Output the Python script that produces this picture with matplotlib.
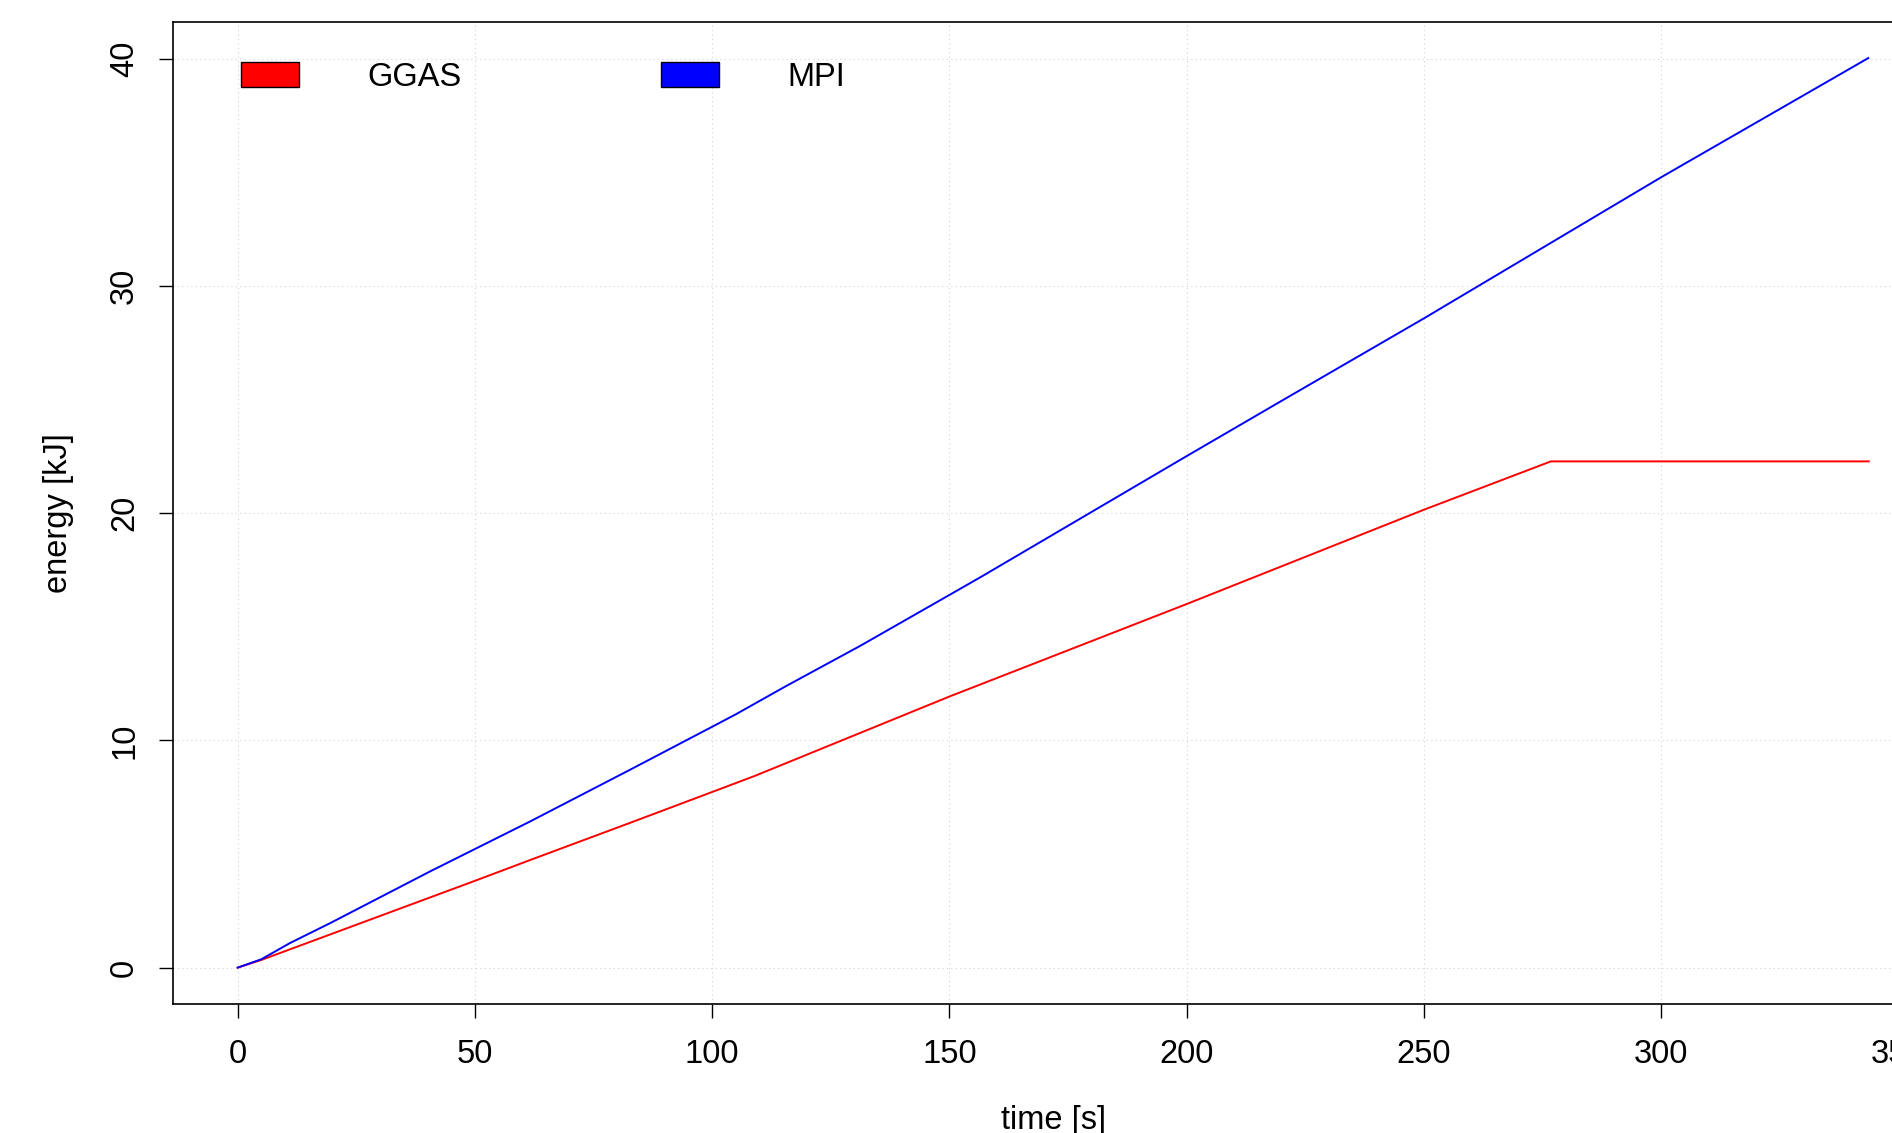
import matplotlib
matplotlib.use("Agg")
import matplotlib.pyplot as plt
from matplotlib.patches import Patch

plt.rcParams['font.family'] = ['Liberation Sans', 'DejaVu Sans']

# ---- data ----
mpi_time = [0, 5, 11, 19.5, 40.6, 50, 61.7, 82.8, 100, 105, 115.4, 131.2,
            150, 156.7, 200, 220.9, 250, 300, 343.7]
mpi_energy = [0, 0.37, 1.08, 1.96, 4.24, 5.22, 6.44, 8.72, 10.6, 11.15, 12.37,
              14.16, 16.40, 17.2, 22.51, 25.05, 28.57, 34.78, 40.03]

ggas_time = [0, 5, 50, 61.7, 82.8, 100, 108.9, 150, 200, 250, 276.8, 343.8]
ggas_energy = [0, 0.34, 3.82, 4.74, 6.38, 7.73, 8.43, 11.93, 16.0, 20.15,
               22.28, 22.28]

series_names = ["GGAS", "MPI"]
series_colors = ["#FF0000", "#0000FF"]
x_ticks = [0, 50, 100, 150, 200, 250, 300, 350]
y_ticks = [0, 10, 20, 30, 40]

W, H = 1892, 1133
fig = plt.figure(figsize=(W / 100, H / 100), dpi=100)
left, right, top, bottom = 172.5, 1934, 21.7, 1004
ax = fig.add_axes([left / W, 1 - bottom / H, (right - left) / W, (bottom - top) / H])

ax.plot(ggas_time, ggas_energy, color=series_colors[0], lw=1.4, zorder=3)
ax.plot(mpi_time, mpi_energy, color=series_colors[1], lw=1.4, zorder=3)

# R-style 4% axis extension
allx = ggas_time + mpi_time
ally = ggas_energy + mpi_energy
xr = max(allx) - min(allx)
yr = max(ally) - min(ally)
ax.set_xlim(min(allx) - 0.04 * xr, max(allx) + 0.04 * xr)
ax.set_ylim(min(ally) - 0.04 * yr, max(ally) + 0.04 * yr)

ax.set_xticks(x_ticks)
ax.set_yticks(y_ticks)
ax.set_xticklabels([str(t) for t in x_ticks])
ax.set_yticklabels([str(t) for t in y_ticks], rotation=90, va='center')

fs = 23.5
ax.tick_params(axis='x', length=10.4, width=1.0, pad=15.0, labelsize=fs, direction='out')
ax.tick_params(axis='y', length=10.4, width=1.0, pad=13, labelsize=fs, direction='out')

ax.grid(True, color='#D3D3D3', linestyle=(0, (1, 3)), linewidth=0.8, zorder=1)
ax.set_axisbelow(True)
for s in ax.spines.values():
    s.set_linewidth(1.2)
    s.set_color('black')

ax.set_xlabel("time [s]", fontsize=fs, va='center')
ax.xaxis.set_label_coords(0.5, -(1120.5 - bottom) / (bottom - top))
ax.set_ylabel("energy [kJ]", fontsize=fs, va='center')
ax.yaxis.set_label_coords((58 - left) / (right - left), 0.5)

handles = [Patch(facecolor=c, edgecolor='black', linewidth=1.0, label=n)
           for n, c in zip(series_names, series_colors)]
leg = ax.legend(handles=handles, ncol=2, frameon=False, loc='upper left',
                bbox_to_anchor=(240.8 / W, 1 - 61.5 / H), bbox_transform=fig.transFigure,
                borderpad=0, borderaxespad=0, fontsize=fs,
                handlelength=1.78, handleheight=0.8, handletextpad=2.1,
                columnspacing=6.1)

fig.savefig("out.png", dpi=100)
